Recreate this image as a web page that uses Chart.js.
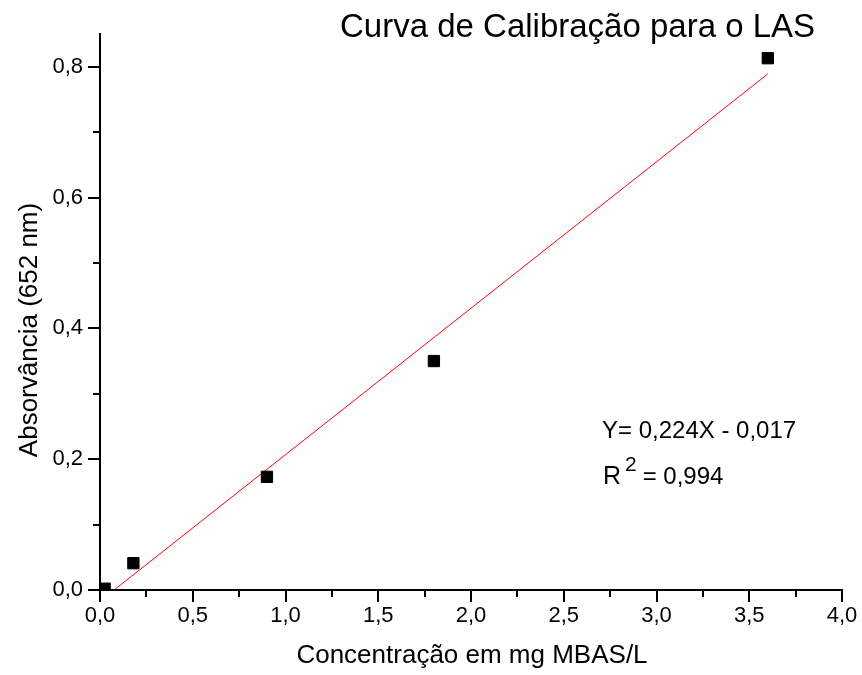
<!DOCTYPE html>
<html>
<head>
<meta charset="utf-8">
<script src="https://cdn.jsdelivr.net/npm/chart.js@4"></script>
<style>
  html, body { margin: 0; padding: 0; background: #fff; }
  canvas { display: block; }
</style>
</head>
<body>
<canvas id="c" width="862" height="675"></canvas>
<script>
// ---- data ----
const concX = [0.025, 0.18, 0.9, 1.8, 3.6];
const absY = [0.002, 0.041, 0.173, 0.350, 0.813];
const fitX = [0.076, 3.6];
const fitY = [0.0, 0.789];
const xTickValues = [0, 0.5, 1.0, 1.5, 2.0, 2.5, 3.0, 3.5, 4.0];
const yTickValues = [0, 0.2, 0.4, 0.6, 0.8];
const xMinorValues = [0.25, 0.75, 1.25, 1.75, 2.25, 2.75, 3.25, 3.75];
const yMinorValues = [0.1, 0.3, 0.5, 0.7];
const titleText = 'Curva de Calibração para o LAS';
const xTitle = 'Concentração em mg MBAS/L';
const yTitle = 'Absorvância (652 nm)';
const eqText = 'Y= 0,224X - 0,017';
const r2Text = ' = 0,994';

const FONT = '"Liberation Sans", Arial, sans-serif';
const fmt = v => Number(v).toFixed(1).replace('.', ',');

const decor = {
  id: 'decor',
  afterDraw(chart) {
    const ctx = chart.ctx;
    const xs = chart.scales.x, ys = chart.scales.y;
    const ca = chart.chartArea;
    ctx.save();
    ctx.strokeStyle = '#000';
    ctx.lineWidth = 2;
    ctx.beginPath();
    xTickValues.forEach(v => { const p = Math.round(xs.getPixelForValue(v)); ctx.moveTo(p, ca.bottom); ctx.lineTo(p, ca.bottom + 12); });
    xMinorValues.forEach(v => { const p = Math.round(xs.getPixelForValue(v)); ctx.moveTo(p, ca.bottom); ctx.lineTo(p, ca.bottom + 7); });
    yTickValues.forEach(v => { const p = Math.round(ys.getPixelForValue(v)); ctx.moveTo(ca.left, p); ctx.lineTo(ca.left - 12, p); });
    yMinorValues.forEach(v => { const p = Math.round(ys.getPixelForValue(v)); ctx.moveTo(ca.left, p); ctx.lineTo(ca.left - 7, p); });
    ctx.stroke();
    // axis lines on top of marks
    ctx.beginPath();
    ctx.moveTo(ca.left, ca.top); ctx.lineTo(ca.left, ca.bottom); ctx.lineTo(ca.right, ca.bottom);
    ctx.stroke();

    ctx.fillStyle = '#000';
    ctx.textBaseline = 'alphabetic';
    // title
    ctx.font = '33px ' + FONT;
    ctx.textAlign = 'left';
    ctx.fillText(titleText, 340, 37);
    // x title
    ctx.font = '26px ' + FONT;
    ctx.textAlign = 'center';
    ctx.fillText(xTitle, 472, 663);
    // y title
    ctx.save();
    ctx.translate(37, 330);
    ctx.rotate(-Math.PI / 2);
    ctx.fillText(yTitle, 0, 0);
    ctx.restore();
    // equation
    ctx.textAlign = 'left';
    ctx.font = '24px ' + FONT;
    ctx.fillText(eqText, 602, 438);
    ctx.font = '25px ' + FONT;
    ctx.fillText('R', 603, 484);
    ctx.font = '21px ' + FONT;
    ctx.fillText('2', 625, 471);
    ctx.font = '24px ' + FONT;
    ctx.fillText(r2Text, 636, 484);
    ctx.restore();
  }
};

new Chart(document.getElementById('c'), {
  type: 'scatter',
  data: {
    datasets: [
      {
        data: concX.map((x, i) => ({ x, y: absY[i] })),
        pointStyle: 'rect',
        pointRadius: 8,
        pointBackgroundColor: '#000',
        pointBorderColor: '#000',
        pointBorderWidth: 1,
        showLine: false,
        clip: 0
      },
      {
        type: 'line',
        data: fitX.map((x, i) => ({ x, y: fitY[i] })),
        borderColor: '#ff0000',
        borderWidth: 1,
        pointRadius: 0,
        fill: false,
        tension: 0
      }
    ]
  },
  options: {
    responsive: false,
    devicePixelRatio: 1,
    animation: false,
    layout: { padding: { top: 34, right: 20, left: 0, bottom: 0 } },
    plugins: { legend: { display: false }, tooltip: { enabled: false }, title: { display: false } },
    scales: {
      x: {
        type: 'linear', position: 'bottom', min: 0, max: 4,
        grid: { display: false, drawTicks: false },
        border: { display: true, color: '#000', width: 2 },
        afterBuildTicks: s => { s.ticks = xTickValues.map(v => ({ value: v })); },
        ticks: { callback: v => fmt(v), color: '#000', font: { size: 22, family: FONT }, padding: 13, maxRotation: 0, autoSkip: false },
        afterFit: s => { s.height = 85; s.paddingLeft = 0; s.paddingRight = 0; }
      },
      y: {
        type: 'linear', position: 'left', min: 0, max: 0.85,
        grid: { display: false, drawTicks: false },
        border: { display: true, color: '#000', width: 2 },
        afterBuildTicks: s => { s.ticks = yTickValues.map(v => ({ value: v })); },
        ticks: { callback: v => fmt(v), color: '#000', font: { size: 22, family: FONT }, padding: 17, autoSkip: false },
        afterFit: s => { s.width = 100; s.paddingTop = 0; s.paddingBottom = 0; }
      }
    }
  },
  plugins: [decor]
});
</script>
</body>
</html>
